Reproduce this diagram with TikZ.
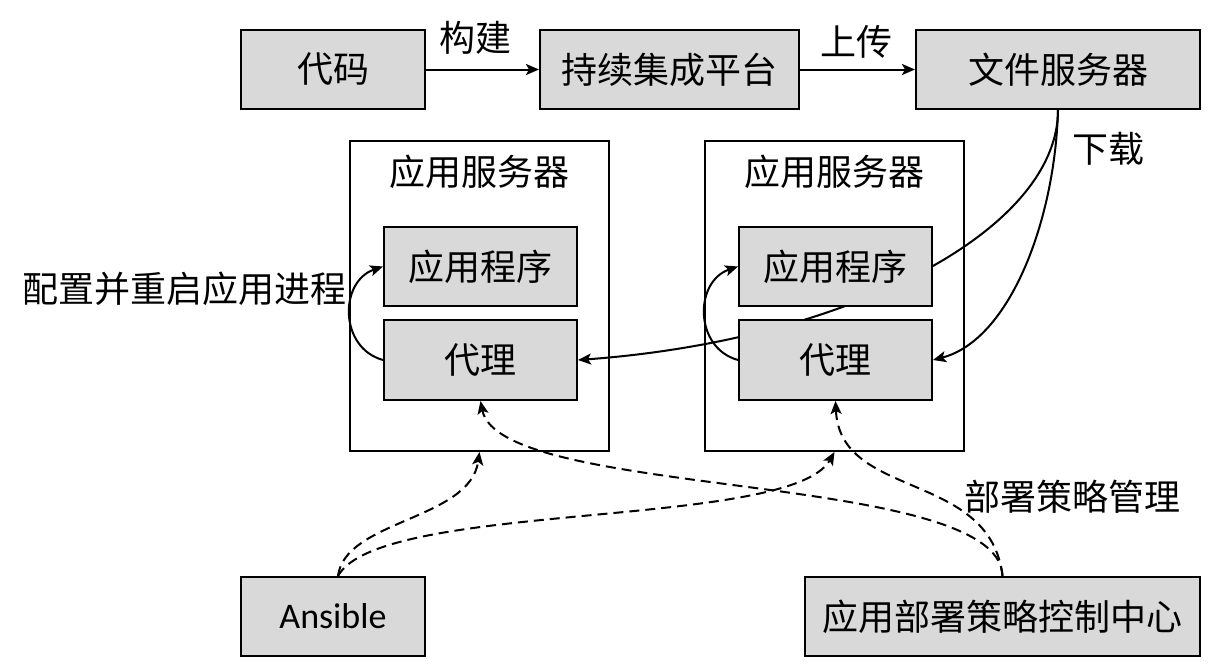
\documentclass[tikz,border=0pt]{standalone}
\usepackage{fontspec}
\setmainfont{Noto Sans CJK SC}
\newfontfamily\latinfont{Carlito}
\usetikzlibrary{arrows.meta}
\pgfdeclarelayer{behind}
\pgfsetlayers{behind,main}
\definecolor{boxgrey}{HTML}{D9D9D9}
\begin{document}
\begin{tikzpicture}[x=1pt,y=-1pt,
  every node/.style={inner sep=0pt, font=\fontsize{36}{40}\selectfont},
  greybox/.style={draw, line width=2pt, fill=boxgrey, minimum height=79pt},
  hostbox/.style={draw, line width=2pt, minimum width=259pt, minimum height=310pt},
  link/.style={line width=2pt, -{Stealth[length=13pt,width=11pt,inset=3pt]}},
  dashlink/.style={link, dash pattern=on 10pt off 6pt}
]
\useasboundingbox (0,0) rectangle (1208,664);

% pipeline along the top
\node[greybox, minimum width=184pt] (code) at (333,69.5) {代码};
\node[greybox, minimum width=259pt] (ci) at (669.5,69.5) {持续集成平台};
\node[greybox, minimum width=284pt] (fs) at (1058,69.5) {文件服务器};

% the two application servers
\node[hostbox] (srv1) at (479.5,296) {};
\node[hostbox] (srv2) at (834.5,296) {};
\node (t1) at (479,172) {应用服务器};
\node (t2) at (834,172) {应用服务器};
\node[greybox, minimum width=193pt] (app1) at (480.5,266.5) {应用程序};
\node[greybox, minimum width=193pt, minimum height=80pt] (agent1) at (480.5,360) {代理};
\node[greybox, minimum width=193pt] (app2) at (835.5,266.5) {应用程序};
\node[greybox, minimum width=193pt, minimum height=80pt] (agent2) at (835.5,360) {代理};

% controllers at the bottom
\node[greybox, minimum width=184pt] (ansible) at (333,616.5) {\latinfont Ansible};
\node[greybox, minimum width=395pt] (ctrl) at (1002.5,616.5) {应用部署策略控制中心};

% edge labels
\node (lb1) at (475,38) {构建};
\node (lb2) at (856,42) {上传};
\node (lb3) at (1108,149) {下载};
\node (lb4) at (185,289) {配置并重启应用进程};
\node (lb5) at (1072,497) {部署策略管理};

% straight pipeline arrows
\draw[link] (code) -- (ci);
\draw[link] (ci) -- (fs);

% downloads, running behind the second server's boxes
\begin{pgfonlayer}{behind}
\fill[white] (0,0) rectangle (1208,664);
\draw[link] (fs.south) .. controls (1058,230) and (850,340) .. (agent1.east);
\draw[link] (fs.south) .. controls (1055,220) and (1010,340) .. (agent2.east);
\end{pgfonlayer}

% agent restarts the application
\draw[link] (agent1.west) .. controls +(-44,-12) and +(-44,15) .. (app1.west);
\draw[link] (agent2.west) .. controls +(-44,-12) and +(-44,15) .. (app2.west);

% deployment management
\draw[dashlink] ([xshift=5pt]ansible.north) .. controls (345,520) and (470,520) .. (srv1.south);
\draw[dashlink] ([xshift=5pt]ansible.north) .. controls (380,500) and (790,530) .. (srv2.south);
\draw[dashlink] (ctrl.north) .. controls (1000,470) and (500,500) .. (agent1.south);
\draw[dashlink] (ctrl.north) .. controls (990,470) and (840,500) .. (agent2.south);
\end{tikzpicture}
\end{document}
